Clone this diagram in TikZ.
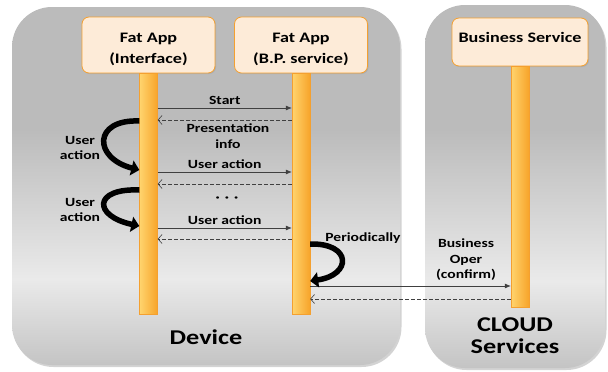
\documentclass[tikz,border=0pt]{standalone}
\usepackage{fontspec}
\setmainfont{Carlito}[FakeStretch=1.25]
\usetikzlibrary{positioning,arrows.meta,shadows}

\definecolor{hdrfill}{HTML}{FDEBD8}
\definecolor{hdrline}{HTML}{F4A030}
\definecolor{lifeL}{HTML}{FFD46E}
\definecolor{lifeR}{HTML}{F7A42A}
\definecolor{panelTop}{HTML}{BBBBBB}
\definecolor{panelLight}{HTML}{EAEAEA}
\definecolor{panelBot}{HTML}{C4C4C4}
\definecolor{msgline}{HTML}{404040}

\pgfdeclareverticalshading{panelshade}{100bp}{color(0bp)=(panelBot); color(25bp)=(panelBot); color(37bp)=(panelLight); color(58bp)=(panelTop); color(100bp)=(panelTop)}

\tikzstyle{panel} = [shading=panelshade, rounded corners=40pt, drop shadow={opacity=0.35, shadow xshift=1.5pt, shadow yshift=-2pt}]
\tikzstyle{hdr} = [draw=hdrline, fill=hdrfill, rounded corners=7pt, line width=0.8pt, align=center, minimum width=133pt, font=\bfseries\fontsize{14.5}{21}\selectfont, drop shadow={opacity=0.25, shadow xshift=1pt, shadow yshift=-1pt}]
\tikzstyle{life} = [draw=hdrline, left color=lifeL, right color=lifeR, line width=0.3pt, minimum width=18pt, minimum height=241pt, inner sep=0pt]
\tikzstyle{msg} = [draw=msgline, line width=0.7pt, -{Latex[length=6pt,width=5pt]}]
\tikzstyle{ret} = [draw=msgline, line width=0.6pt, dash pattern=on 4pt off 2pt, -{Straight Barb[length=4pt,width=9pt]}]
\tikzstyle{act} = [line width=5.5pt, -{Triangle[length=8pt,width=15pt]}]
\tikzstyle{lbl} = [font=\bfseries\fontsize{12.5}{15.5}\selectfont, align=center, inner sep=1pt]
\tikzstyle{big} = [font=\bfseries\fontsize{21}{22}\selectfont, align=center]

\begin{document}
\begin{tikzpicture}[x=1pt, y=-1pt]
    \useasboundingbox (0,0) rectangle (608,372);

    % device and cloud
    \path [panel] (12,7) rectangle (400,365);
    \path [panel] (425,5) rectangle (605,368);

    % participants
    \node (ifc) [hdr, minimum height=56pt, text height=39pt] at (148.5,45) {Fat App\\(Interface)};
    \node (bps) [hdr, minimum height=56pt, text height=39pt] at (301,45) {Fat App\\(B.P. service)};
    \node (bus) [hdr, minimum width=136pt, minimum height=48pt, text height=10pt, text depth=10pt] at (520,42) {Business Service};

    \node (ifcl) [life, below=0pt of ifc] {};
    \node (bpsl) [life, below=0pt of bps] {};
    \node (busl) [life, below=0pt of bus] {};

    % messages
    \foreach \y/\t in {108/Start, 172/User action, 228/User action}
        \draw [msg] (ifcl.east |- 0,\y) -- (bpsl.west |- 0,\y) node [lbl, midway, above=2pt] {\t};
    \foreach \y in {120,184,239}
        \draw [ret] (bpsl.west |- 0,\y) -- (ifcl.east |- 0,\y);

    \draw [msg] (bpsl.east |- 0,286) -- (busl.west |- 0,286);
    \draw [ret] (busl.west |- 0,299) -- (bpsl.east |- 0,299);

    % self actions
    \draw [act] (ifcl.west |- 0,121) .. controls (93,119) and (93,158) .. (ifcl.west |- 0,170);
    \draw [act] (ifcl.west |- 0,190) .. controls (93,188) and (93,216) .. (ifcl.west |- 0,226);
    \draw [act] (bpsl.east |- 0,244) .. controls (352,243) and (352,275) .. (bpsl.east |- 0,281);

    \node (pinfo) [lbl] at (228,136) {Presentation\\info};
    \node (dots) [lbl] at (227,199) {·\hspace{5pt}·\hspace{5pt}·};
    \node (ua1) [lbl] at (80,148) {User\\action};
    \node (ua2) [lbl] at (80,210) {User\\action};
    \node (per) [lbl] at (363,238) {Periodically};
    \node (bop) [lbl] at (466,260) {Business\\Oper\\(confirm)};

    \node (dev) [big] at (206,337) {Device};
    \node (cld) [big] at (515,336) {CLOUD\\Services};
\end{tikzpicture}
\end{document}
